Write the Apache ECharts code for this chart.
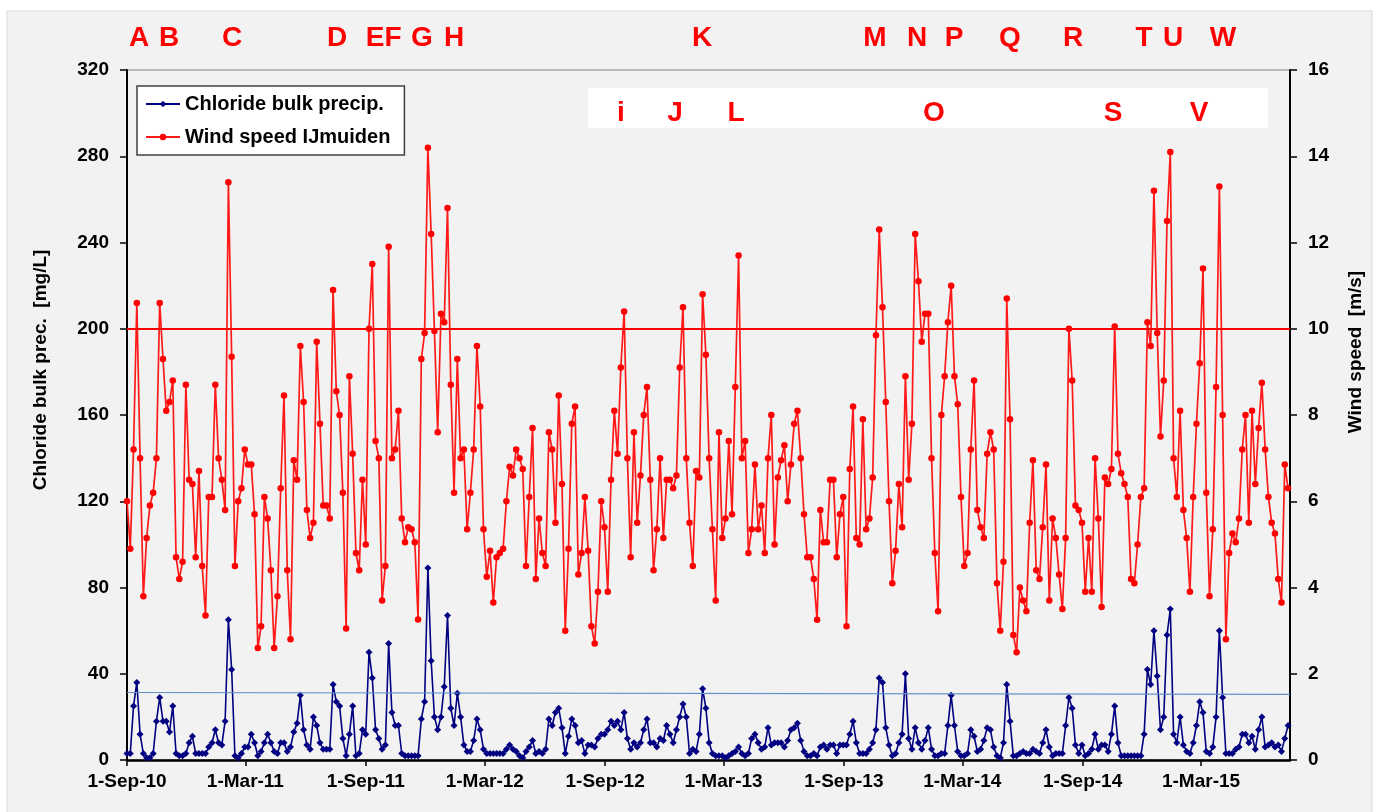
<!DOCTYPE html>
<html>
<head>
<meta charset="utf-8">
<script src="https://cdn.jsdelivr.net/npm/echarts@6/dist/echarts.min.js"></script>
<style>
html,body{margin:0;padding:0;background:#fff;}
#chart{width:1378px;height:812px;}
</style>
</head>
<body>
<div id="chart"></div>
<script>
// ---- data ----
const seriesStart = [2010, 8, 1];      // 1-Sep-2010 (month is 0-based)
const sampleStepDays = 5;              // one reading every 5 days
const axisStart = [2010, 8, 1];
const axisEnd = [2015, 6, 15];

// Wind speed IJmuiden [m/s]
const windSpeed = [
6.0,4.9,7.2,10.6,7.0,3.8,5.15,5.9,6.2,7.0,
10.6,9.3,8.1,8.3,8.8,4.7,4.2,4.6,8.7,6.5,
6.4,4.7,6.7,4.5,3.35,6.1,6.1,8.7,7.0,6.5,
5.8,13.4,9.35,4.5,6.0,6.3,7.2,6.85,6.85,5.7,
2.6,3.1,6.1,5.6,4.4,2.6,3.8,6.3,8.45,4.4,
2.8,6.95,6.5,9.6,8.3,5.8,5.15,5.5,9.7,7.8,
5.9,5.9,5.6,10.9,8.55,8.0,6.2,3.05,8.9,7.1,
4.8,4.4,6.5,5.0,10.0,11.5,7.4,7.0,3.7,4.5,
11.9,7.0,7.2,8.1,5.6,5.05,5.4,5.35,5.05,3.26,
9.3,9.9,14.2,12.2,9.95,7.6,10.35,10.15,12.8,8.7,
6.2,9.3,7.0,7.2,5.35,6.2,7.2,9.6,8.2,5.35,
4.25,4.85,3.65,4.7,4.8,4.9,6.0,6.8,6.6,7.2,
7.0,6.75,4.5,6.1,7.7,4.2,5.6,4.8,4.5,7.6,
7.2,5.5,8.45,6.4,3.0,4.9,7.8,8.2,4.3,4.8,
6.1,4.85,3.1,2.7,3.9,6.0,5.4,3.9,6.5,8.1,
7.1,9.1,10.4,7.0,4.7,7.6,5.5,6.6,8.0,8.65,
6.5,4.4,5.35,7.0,5.15,6.5,6.5,6.3,6.6,9.1,
10.5,7.0,5.5,4.5,6.7,6.55,10.8,9.4,7.0,5.35,
3.7,7.6,5.15,5.6,7.4,5.7,8.65,11.7,7.0,7.4,
4.8,5.35,6.85,5.35,5.9,4.8,7.0,8.0,5.0,6.55,
6.95,7.3,6.0,6.85,7.8,8.1,7.0,5.7,4.7,4.7,
4.2,3.25,5.8,5.05,5.05,6.5,6.5,4.7,5.7,6.1,
3.1,6.75,8.2,5.15,5.0,7.9,5.35,5.6,6.55,9.85,
12.3,10.5,8.3,6.0,4.1,4.85,6.4,5.4,8.9,6.5,
7.8,12.2,11.1,9.7,10.35,10.35,7.0,4.8,3.45,8.0,
8.9,10.15,11.0,8.9,8.25,6.1,4.5,4.8,7.2,8.8,
5.8,5.4,5.15,7.1,7.6,7.2,4.1,3.0,4.6,10.7,
7.9,2.9,2.5,4.0,3.7,3.45,5.5,6.95,4.4,4.2,
5.4,6.85,3.7,5.6,5.15,4.3,3.5,5.15,10.0,8.8,
5.9,5.8,5.5,3.9,5.15,3.9,7.0,5.6,3.55,6.55,
6.4,6.75,10.05,7.1,6.65,6.4,6.1,4.2,4.1,5.0,
6.1,6.3,10.15,9.6,13.2,9.9,7.5,8.8,12.5,14.1,
7.0,6.1,8.1,5.8,5.15,3.9,6.1,7.8,9.2,11.4,
6.2,3.8,5.35,8.65,13.3,8.0,2.8,4.8,5.25,5.05,
5.6,7.2,8.0,5.5,8.1,6.4,7.7,8.75,7.2,6.1,
5.5,5.25,4.2,3.65,6.85,6.3
];

// Chloride in bulk precipitation [mg/L]
const chlorideBulk = [
3,3,25,36,12,3,1,1,3,18,
29,18,18,13,25,3,2,2,3,8,
11,3,3,3,3,6,8,14,8,7,
18,65,42,2,1,3,6,6,12,8,
2,4,8,12,8,4,3,8,8,4,
6,13,17,30,14,7,5,20,16,8,
5,5,5,35,27,25,10,2,12,25,
2,3,14,12,50,38,14,10,5,7,
54,22,16,16,3,2,2,2,2,2,
19,27,89,46,20,14,20,34,67,24,
16,31,20,7,4,4,9,19,14,5,
3,3,3,3,3,3,5,7,5,4,
2,1,4,6,9,3,4,3,5,19,
16,22,24,15,3,11,19,16,8,9,
3,7,7,6,10,12,12,14,18,16,
18,14,22,10,5,8,6,8,14,19,
8,8,6,10,9,16,12,8,14,20,
26,20,3,5,4,12,33,24,8,3,
2,2,2,1,2,3,4,6,3,2,
3,10,12,8,5,6,15,7,8,8,
8,6,9,14,15,17,9,4,2,2,
3,2,6,7,5,7,7,3,7,7,
7,12,18,8,3,3,3,5,8,14,
38,36,15,7,2,3,8,12,40,10,
5,15,8,5,9,15,5,2,2,3,
3,16,30,16,4,2,2,3,14,11,
4,5,9,15,14,6,2,1,8,35,
18,2,2,3,4,3,3,5,4,3,
8,14,6,2,3,3,3,16,29,24,
7,3,7,2,3,5,12,5,7,7,
4,12,25,8,2,2,2,2,2,2,
2,12,42,35,60,39,14,20,58,70,
12,8,20,7,4,3,8,16,27,22,
4,3,6,20,60,29,3,3,3,5,
6,12,12,8,11,5,14,20,6,7,
8,6,7,4,10,16
];

const windThreshold = 10;                 // m/s reference line
const chlorideLevel = [31.3, 30.4];      // thin blue level line, start / end value [mg/L]

const xTickDates = [[2010,8,1],[2011,2,1],[2011,8,1],[2012,2,1],[2012,8,1],[2013,2,1],[2013,8,1],[2014,2,1],[2014,8,1],[2015,2,1]];
const xTickLabels = ['1-Sep-10','1-Mar-11','1-Sep-11','1-Mar-12','1-Sep-12','1-Mar-13','1-Sep-13','1-Mar-14','1-Sep-14','1-Mar-15'];

const topLetters = ['A','B','C','D','E','F','G','H','K','M','N','P','Q','R','T','U','W'];
const boxLetters = ['i','J','L','O','S','V'];

const leftAxisName = 'Chloride bulk prec.  [mg/L]';
const rightAxisName = 'Wind speed  [m/s]';

// ---- build ----
const ts = (d) => new Date(d[0], d[1], d[2]).getTime();
const sampleTime = (i) => new Date(seriesStart[0], seriesStart[1], seriesStart[2] + i * sampleStepDays).getTime();
const windData = windSpeed.map((v, i) => [sampleTime(i), v]);
const chlorideData = chlorideBulk.map((v, i) => [sampleTime(i), v]);
const tickTs = xTickDates.map(ts);
const xMin = ts(axisStart), xMax = ts(axisEnd);

// annotation placement (pixels)
const topLetterX = [139,169,232,337,375,393,422,454,702,875,917,954,1010,1073,1144,1173,1223];
const boxLetterX = [621,675,736,934,1113,1199];

const FONT = "'Liberation Sans', Arial, sans-serif";
const chart = echarts.init(document.getElementById('chart'), null, {renderer: 'canvas'});

const graphics = [
  {type:'rect', z:-100, silent:true, shape:{x:7, y:11, width:1365, height:805}, style:{fill:'#f2f2f2', stroke:'#d9d9d9', lineWidth:1}},
  {type:'rect', z:-50, silent:true, shape:{x:588, y:88, width:680, height:40}, style:{fill:'#ffffff'}},
  {type:'text', z:50, silent:true, x:41, y:370, rotation:Math.PI/2,
    style:{text:leftAxisName, fill:'#000', font:"bold 19px " + FONT, textAlign:'center', textVerticalAlign:'middle'}},
  {type:'text', z:50, silent:true, x:1356, y:352, rotation:Math.PI/2,
    style:{text:rightAxisName, fill:'#000', font:"bold 19px " + FONT, textAlign:'center', textVerticalAlign:'middle'}}
];
topLetters.forEach((t, k) => graphics.push({type:'text', z:50, silent:true, x:topLetterX[k], y:38,
  style:{text:t, fill:'#ff0000', font:"bold 28px " + FONT, textAlign:'center', textVerticalAlign:'middle'}}));
boxLetters.forEach((t, k) => graphics.push({type:'text', z:50, silent:true, x:boxLetterX[k], y:113,
  style:{text:t, fill:'#ff0000', font:"bold 28px " + FONT, textAlign:'center', textVerticalAlign:'middle'}}));

const axisCommon = {
  axisLine:{show:true, lineStyle:{color:'#000', width:2}},
  axisTick:{show:true, inside:false, length:7, lineStyle:{color:'#000', width:1.5}},
  splitLine:{show:false},
  axisLabel:{color:'#000', fontWeight:'bold', fontSize:19, fontFamily:FONT}
};

chart.setOption({
  animation:false,
  backgroundColor:'transparent',
  textStyle:{fontFamily:FONT},
  graphic:{elements:graphics},
  grid:{left:127, right:88, top:70, bottom:52, show:true, borderColor:'#808080', borderWidth:1, backgroundColor:'transparent'},
  legend:{
    left:137, top:86, orient:'vertical', itemWidth:34, itemHeight:8, itemGap:13,
    padding:[8,14,8,8], backgroundColor:'#ffffff', borderColor:'#404040', borderWidth:1.5,
    textStyle:{color:'#000', fontWeight:'bold', fontSize:20, fontFamily:FONT},
    data:['Chloride bulk precip.','Wind speed IJmuiden']
  },
  xAxis:{
    type:'value', min:xMin, max:xMax,
    axisLine:{show:true, onZero:false, lineStyle:{color:'#000', width:2.5}},
    axisTick:{show:true, length:6, lineStyle:{color:'#000', width:1.5}, customValues:tickTs},
    splitLine:{show:false},
    axisLabel:{color:'#000', fontWeight:'bold', fontSize:19, fontFamily:FONT, margin:12, customValues:tickTs,
      showMinLabel:true, showMaxLabel:true, hideOverlap:false,
      formatter:(v) => { const k = tickTs.indexOf(v); return k >= 0 ? xTickLabels[k] : ''; }}
  },
  yAxis:[
    Object.assign({}, axisCommon, {type:'value', position:'left', min:0, max:320, interval:40,
      axisLabel:Object.assign({}, axisCommon.axisLabel, {margin:18})}),
    Object.assign({}, axisCommon, {type:'value', position:'right', min:0, max:16, interval:2,
      axisLabel:Object.assign({}, axisCommon.axisLabel, {margin:18})})
  ],
  series:[
    {
      name:'Wind speed IJmuiden', type:'line', yAxisIndex:1, data:windData,
      color:'#ff0000', symbol:'circle', symbolSize:6.5, showSymbol:true, showAllSymbol:true,
      lineStyle:{width:1.7, color:'#ff1a1a'}, itemStyle:{color:'#ff0000'}, z:3,
      markLine:{silent:true, symbol:'none', label:{show:false},
        lineStyle:{color:'#ff0000', width:2, type:'solid'},
        data:[{yAxis:windThreshold}]}
    },
    {
      name:'Chloride bulk precip.', type:'line', yAxisIndex:0, data:chlorideData,
      color:'#000080', symbol:'diamond', symbolSize:7, showSymbol:true, showAllSymbol:true,
      lineStyle:{width:1.6, color:'#000080'}, itemStyle:{color:'#000080'}, z:4,
      markLine:{silent:true, symbol:'none', label:{show:false},
        lineStyle:{color:'#5f8fc9', width:1.2, type:'solid'},
        data:[[{coord:[xMin, chlorideLevel[0]]},{coord:[xMax, chlorideLevel[1]]}]]}
    }
  ]
});
</script>
</body>
</html>
